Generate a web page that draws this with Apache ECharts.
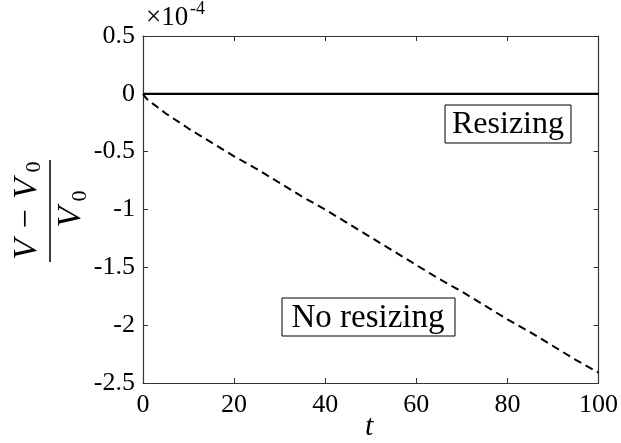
<!DOCTYPE html>
<html>
<head>
<meta charset="utf-8">
<script src="https://cdn.jsdelivr.net/npm/echarts@6/dist/echarts.min.js"></script>
<style>html,body{margin:0;padding:0;background:#fff}#c{width:621px;height:443px}</style>
</head>
<body>
<div id="c"></div>
<script>
// time values
const tValues = [0, 0.5, 1, 2, 3, 5, 10, 15, 20, 25, 30, 35, 40, 45, 50, 55, 60, 65, 70, 75, 80, 85, 90, 95, 100];
// (V - V0)/V0 in units of 1e-4, with resizing
const resizing = [0, 0, 0, 0, 0, 0, 0, 0, 0, 0, 0, 0, 0, 0, 0, 0, 0, 0, 0, 0, 0, 0, 0, 0, 0];
// without resizing
const noResizing = [0, -0.03, -0.05, -0.08, -0.11, -0.17, -0.30, -0.42, -0.54, -0.65, -0.77, -0.89, -1.00, -1.12, -1.24, -1.36, -1.48, -1.60, -1.71, -1.83, -1.95, -2.06, -2.18, -2.30, -2.41];
const xTicks = [0, 20, 40, 60, 80, 100];
const yTicks = [0.5, 0, -0.5, -1, -1.5, -2, -2.5];

const serif = '"Liberation Serif", "Times New Roman", Times, serif';
const chart = echarts.init(document.getElementById('c'));
const axisLine = {show: true, onZero: false, lineStyle: {color: '#333', width: 1.2}};
const tick = {show: true, inside: true, length: 5, lineStyle: {color: '#333'}};
function txt(o) { return Object.assign({fontFamily: serif, fill: '#000'}, o); }
chart.setOption({
  animation: false,
  backgroundColor: '#fff',
  grid: {left: 143, right: 22, top: 36, bottom: 60},
  xAxis: [{
    type: 'value', min: 0, max: 100, interval: 20,
    axisLine: axisLine, axisTick: tick,
    splitLine: {show: false},
    axisLabel: {fontFamily: serif, fontSize: 26, color: '#000', margin: 9,
      formatter: v => xTicks.includes(v) ? String(v) : ''}
  }, {
    type: 'value', min: 0, max: 100, interval: 20, position: 'top',
    axisLine: axisLine, axisTick: tick,
    splitLine: {show: false}, axisLabel: {show: false}
  }],
  yAxis: [{
    type: 'value', min: -2.5, max: 0.5, interval: 0.5,
    axisLine: axisLine, axisTick: tick,
    splitLine: {show: false},
    axisLabel: {fontFamily: serif, fontSize: 26, color: '#000', margin: 8,
      formatter: v => yTicks.some(t => Math.abs(t - v) < 1e-9) ? String(Math.round(v * 10) / 10) : ''}
  }, {
    type: 'value', min: -2.5, max: 0.5, interval: 0.5, position: 'right',
    axisLine: axisLine, axisTick: tick,
    splitLine: {show: false}, axisLabel: {show: false}
  }],
  series: [{
    type: 'line', name: 'Resizing', showSymbol: false,
    data: tValues.map((t, i) => [t, resizing[i]]),
    lineStyle: {color: '#000', width: 2.2}
  }, {
    type: 'line', name: 'No resizing', showSymbol: false,
    data: tValues.map((t, i) => [t, noResizing[i]]),
    lineStyle: {color: '#000', width: 2, type: [8, 5]}
  }],
  graphic: [
    {type: 'text', left: 146, top: 4, style: txt({text: '×10', fontSize: 27})},
    {type: 'text', left: 190, top: 0, style: txt({text: '-4', fontSize: 18})},
    {type: 'text', left: 365, top: 412, style: txt({text: 't', fontSize: 30, fontStyle: 'italic'})},
    {type: 'rect', shape: {x: 445, y: 105, width: 126, height: 38}, style: {fill: '#fff', stroke: '#000', lineWidth: 1}},
    {type: 'text', x: 508, y: 125, style: txt({text: 'Resizing', fontSize: 32, align: 'center', verticalAlign: 'middle'})},
    {type: 'rect', shape: {x: 282, y: 298, width: 173, height: 38}, style: {fill: '#fff', stroke: '#000', lineWidth: 1}},
    {type: 'text', x: 368, y: 318, style: txt({text: 'No resizing', fontSize: 33, align: 'center', verticalAlign: 'middle'})},
    {type: 'group', x: 50, y: 211, rotation: Math.PI / 2, children: [
      {type: 'line', shape: {x1: -51, y1: 0, x2: 51, y2: 0}, style: {stroke: '#000', lineWidth: 1.5}},
      {type: 'text', x: -8, y: -6, style: txt({text: 'V − V', fontSize: 34, fontStyle: 'italic', align: 'center', verticalAlign: 'bottom'})},
      {type: 'text', x: 44, y: -5, style: txt({text: '0', fontSize: 22, align: 'center', verticalAlign: 'bottom'})},
      {type: 'text', x: -6, y: 4, style: txt({text: 'V', fontSize: 34, fontStyle: 'italic', align: 'center', verticalAlign: 'top'})},
      {type: 'text', x: 15, y: 19, style: txt({text: '0', fontSize: 22, align: 'center', verticalAlign: 'top'})}
    ]}
  ]
});
</script>
</body>
</html>
